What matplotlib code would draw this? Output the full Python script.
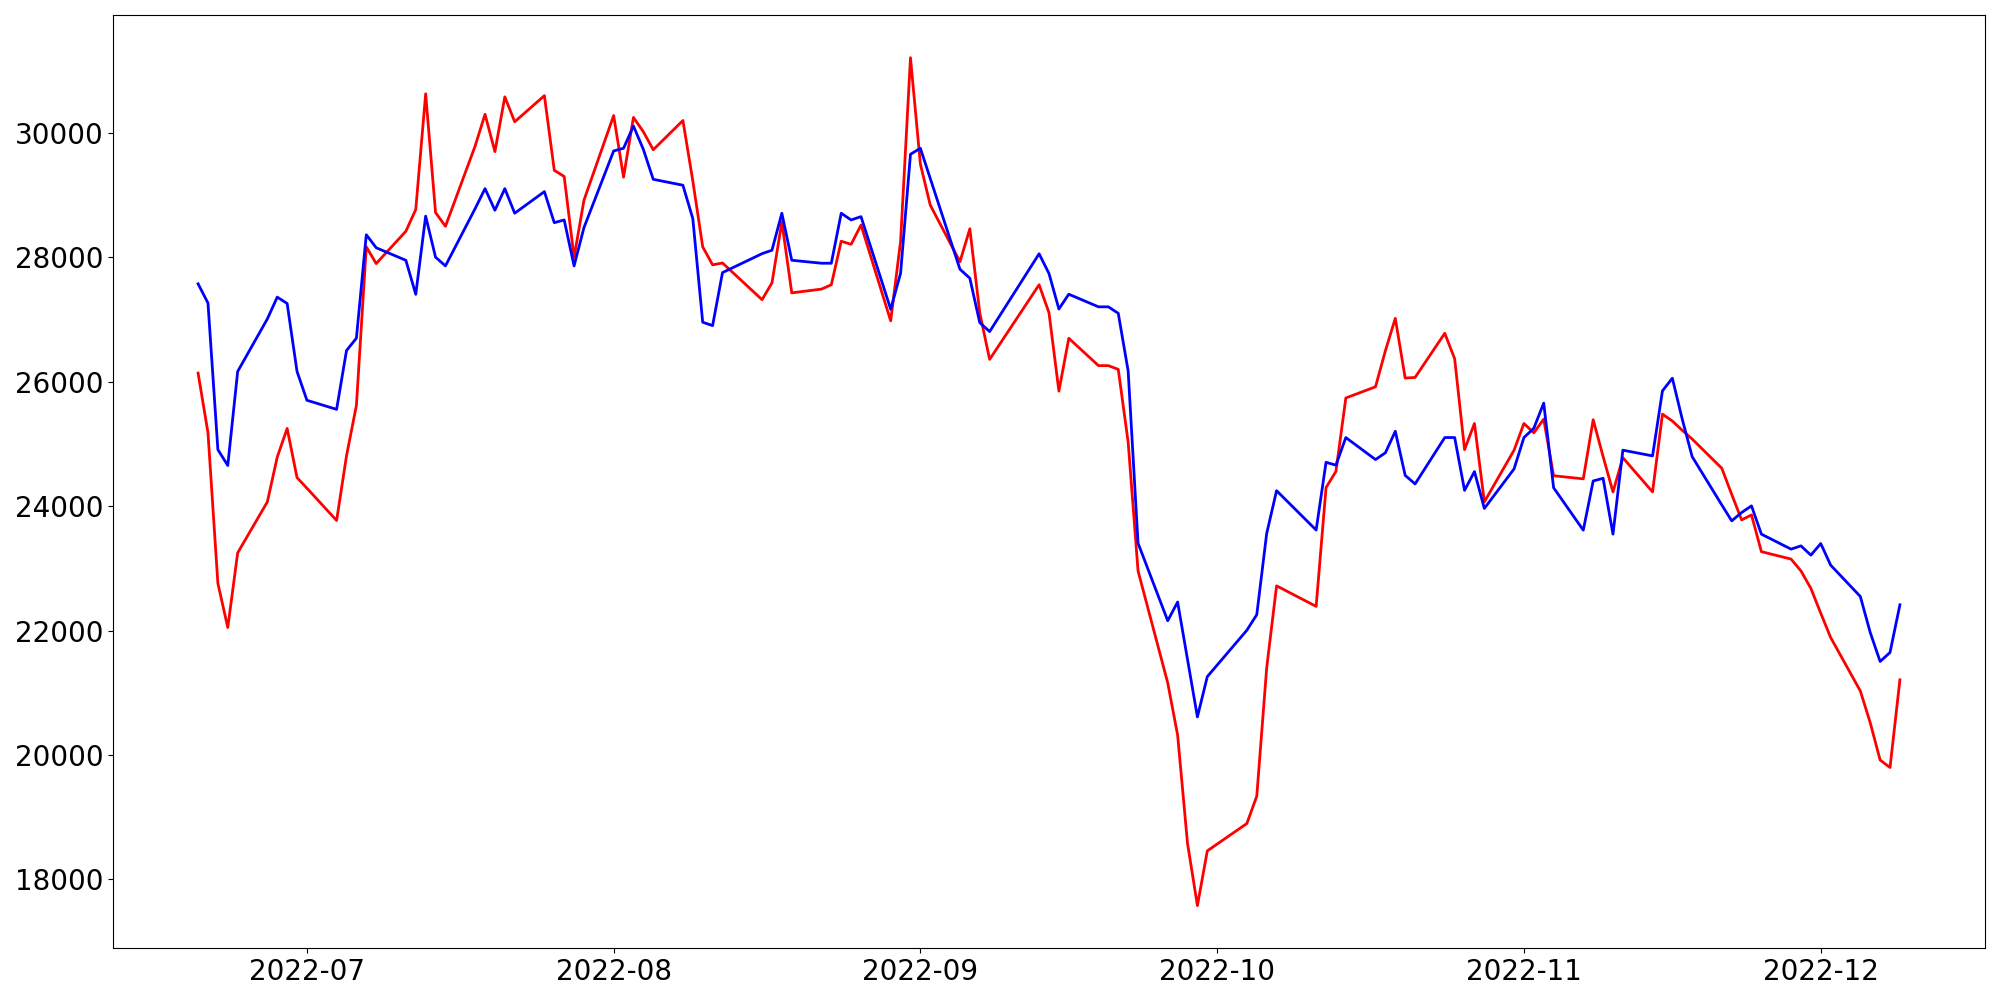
import matplotlib
matplotlib.use("Agg")
import matplotlib.pyplot as plt
import pandas as pd

# Trading days (Korean market calendar, Jun 20 - Dec 9, 2022)
holidays = ["2022-08-15", "2022-09-09", "2022-09-12", "2022-10-03", "2022-10-10"]
dates = pd.bdate_range("2022-06-20", "2022-12-09")
dates = dates[~dates.isin(pd.to_datetime(holidays))]

red_values = [
    # Jun
    26140, 25180, 22760, 22050, 23250, 24070, 24790, 25250, 24460,
    # Jul
    24290, 23770, 24810, 25620, 28170, 27900, 28420, 28770, 30630, 28720, 28500,
    29790, 30300, 29700, 30580, 30180, 30600, 29400, 29300, 28000, 28920,
    # Aug
    30280, 29290, 30250, 30020, 29730, 30200, 29230, 28170, 27880, 27910,
    27320, 27590, 28570, 27430, 27490, 27560, 28260, 28210, 28520, 26980, 28260, 31210,
    # Sep
    29500, 28840, 27930, 28460, 27110, 26360, 27560, 27110, 25850, 26700,
    26260, 26260, 26200, 25030, 22960, 21160, 20320, 18580, 17580, 18460,
    # Oct
    18900, 19340, 21400, 22720, 22390, 24300, 24560, 25740, 25920, 26500,
    27020, 26060, 26070, 26780, 26370, 24910, 25330, 24070, 24900,
    # Nov
    25330, 25180, 25400, 24490, 24440, 25390, 24800, 24230, 24780, 24230,
    25480, 25370, 25220, 25080, 24610, 24190, 23780, 23860, 23270, 23150, 22960, 22680,
    # Dec
    22280, 21890, 21030, 20520, 19920, 19800, 21210,
]

blue_values = [
    # Jun
    27575, 27265, 24910, 24655, 26166, 27011, 27361, 27259, 26166,
    # Jul
    25703, 25557, 26503, 26701, 28364, 28155, 27953, 27406, 28663, 28003, 27863,
    28784, 29105, 28758, 29105, 28710, 29057, 28558, 28602, 27863, 28479,
    # Aug
    29711, 29754, 30112, 29737, 29255, 29160, 28623, 26958, 26903, 27755,
    28060, 28115, 28710, 27954, 27906, 27906, 28710, 28602, 28655, 27167, 27745, 29658,
    # Sep
    29754, 29268, 27810, 27665, 26952, 26807, 28058, 27740, 27170, 27408,
    27205, 27205, 27101, 26174, 23406, 22159, 22460, 21536, 20613, 21261,
    # Oct
    22007, 22257, 23561, 24250, 23617, 24706, 24660, 25104, 24750, 24859,
    25205, 24496, 24358, 25104, 25104, 24255, 24557, 23964, 24599,
    # Nov
    25104, 25253, 25658, 24297, 23615, 24406, 24449, 23551, 24901, 24809,
    25854, 26058, 25400, 24798, 24020, 23765, 23898, 24006, 23551, 23310, 23363, 23213,
    # Dec
    23400, 23053, 22549, 21970, 21504, 21649, 22415,
]

fig = plt.figure(figsize=(20, 10), dpi=100)
ax = fig.add_subplot(111)
ax.plot(dates, red_values, color="red", linewidth=2)
ax.plot(dates, blue_values, color="blue", linewidth=2)
ax.tick_params(axis="both", labelsize=20)
fig.subplots_adjust(left=0.0565, right=0.9925, bottom=0.052, top=0.9847)
fig.savefig("out.png", dpi=100)
